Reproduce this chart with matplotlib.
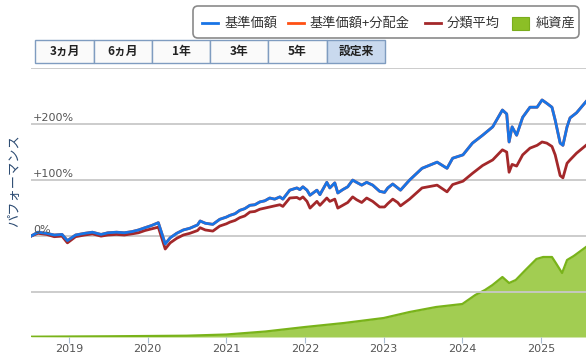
import matplotlib
matplotlib.use('Agg')
import matplotlib.pyplot as plt
import pandas as pd
from matplotlib.patches import FancyBboxPatch, Rectangle
from matplotlib.lines import Line2D
from matplotlib.transforms import IdentityTransform

# performance data (% since inception)
dates = [
    '2018-07-09', '2018-08-10', '2018-09-20', '2018-10-25', '2018-11-30', '2018-12-25',
    '2019-02-01', '2019-03-15', '2019-04-20', '2019-05-30', '2019-07-01', '2019-08-10',
    '2019-09-15', '2019-10-20', '2019-11-20', '2019-12-20', '2020-01-20', '2020-02-20',
    '2020-03-23', '2020-04-15', '2020-05-15', '2020-06-15', '2020-07-15', '2020-08-20',
    '2020-09-01', '2020-09-25', '2020-10-30', '2020-12-01',
    '2021-01-01', '2021-01-17', '2021-02-10', '2021-03-04', '2021-03-27', '2021-04-20',
    '2021-05-13', '2021-06-05', '2021-06-28', '2021-07-21', '2021-08-13', '2021-09-06',
    '2021-09-20', '2021-10-22', '2021-11-24', '2021-12-08', '2021-12-22',
    '2022-01-10', '2022-01-24', '2022-02-25', '2022-03-11', '2022-04-12', '2022-04-26',
    '2022-05-19', '2022-06-02', '2022-06-25', '2022-07-18', '2022-08-10', '2022-08-28',
    '2022-09-21', '2022-10-14', '2022-11-11', '2022-12-13',
    '2023-01-05', '2023-01-20', '2023-02-12', '2023-03-07', '2023-03-20',
    '2023-05-01', '2023-06-28', '2023-09-06', '2023-10-22', '2023-11-17',
    '2024-01-04', '2024-02-17', '2024-04-04', '2024-05-21', '2024-07-05', '2024-07-25',
    '2024-08-05', '2024-08-19', '2024-09-09', '2024-10-07', '2024-11-10', '2024-12-13',
    '2025-01-05', '2025-01-27', '2025-02-20', '2025-03-07', '2025-03-30', '2025-04-12',
    '2025-05-01', '2025-05-15', '2025-06-14', '2025-07-28',
]
nav = [
    0, 7, 5, 2, 3, -8,
    2, 5, 7, 3, 6, 7,
    6, 8, 11, 15, 19, 24,
    -14, -3, 5, 11, 14, 20,
    27, 23, 21, 30,
    34, 37, 40, 46, 49, 55,
    56, 61, 63, 68, 66, 70,
    66, 82, 86, 83, 88,
    82, 73, 82, 74, 96, 86,
    95, 77, 83, 88, 100, 96,
    91, 96, 91, 80,
    78, 86, 93, 86, 82,
    100, 121, 132, 121, 139,
    145, 166, 180, 195, 225, 218,
    168, 195, 180, 212, 230, 230,
    243, 237, 230, 207, 166, 162,
    195, 211, 220, 240,
]
nav_div = list(nav)  # no distributions paid, so it sits under the NAV line
category_avg = [
    0, 5, 3, -1, 0, -12,
    -1, 2, 4, 0, 2, 3,
    2, 4, 6, 10, 13, 16,
    -23, -12, -4, 2, 5, 10,
    15, 11, 9, 18,
    22, 25, 28, 33, 36, 43,
    44, 48, 50, 52, 54, 56,
    53, 68, 69, 66, 70,
    62, 50, 62, 55, 68, 62,
    66, 50, 55, 60, 70, 65,
    60, 68, 62, 52,
    52, 58, 66, 60, 54,
    66, 86, 91, 79, 92,
    98, 112, 126, 136, 154, 150,
    114, 128, 125, 145, 157, 162,
    168, 166, 160, 145, 108, 104,
    130, 136, 148, 162,
]

# net assets (secondary axis, 億円)
na_dates = [
    '2018-07-09', '2019-01-01', '2019-07-01', '2020-01-01', '2020-07-01', '2021-01-01',
    '2021-07-01', '2022-01-01', '2022-07-01', '2023-01-01', '2023-05-01', '2023-09-01',
    '2024-01-01', '2024-03-01', '2024-04-15', '2024-05-20', '2024-07-05', '2024-08-05',
    '2024-09-05', '2024-10-20', '2024-12-10', '2025-01-10', '2025-02-20', '2025-03-10',
    '2025-04-08', '2025-05-01', '2025-06-01', '2025-07-28',
]
net_assets = [
    6, 10, 14, 20, 26, 50,
    110, 200, 280, 380, 500, 600,
    660, 840, 940, 1040, 1200, 1080,
    1140, 1340, 1560, 1600, 1600, 1480,
    1280, 1540, 1620, 1800,
]

year_ticks = ['2019-01-01', '2020-01-01', '2021-01-01', '2022-01-01',
              '2023-01-01', '2024-01-01', '2025-01-01']
year_labels = ['2019', '2020', '2021', '2022', '2023', '2024', '2025']
pct_ticks = [-100, 0, 100, 200, 300]
pct_labels = ['', '0%', '+100%', '+200%', '']
buttons = ['3ヵ月', '6ヵ月', '1年', '3年', '5年', '設定来']
legend_labels = ['基準価額', '基準価額+分配金', '分類平均', '純資産']

c_nav = '#1874e6'
c_div = '#ff5014'
c_cat = '#a3282a'
c_na_fill = '#a2cd52'
c_na_edge = '#79b31a'
jp = ['Noto Sans CJK JP', 'DejaVu Sans']

W, H = 586, 354
fig = plt.figure(figsize=(W / 100, H / 100), dpi=100)


def fx(px):
    return px / W


def fy(py):
    return 1 - py / H


ax = fig.add_axes([fx(31), fy(337), fx(586) - fx(31), fy(68) - fy(337)])
ax2 = ax.twinx()
ax.set_zorder(ax2.get_zorder() + 1)
ax.patch.set_visible(False)

d_na = pd.to_datetime(na_dates)
ax2.fill_between(d_na, net_assets, color=c_na_fill, lw=0)
ax2.plot(d_na, net_assets, color=c_na_edge, lw=1.6)
ax2.set_ylim(0, 5380)
ax2.set_yticks([])

d = pd.to_datetime(dates)
ax.plot(d, nav_div, color=c_div, lw=2)
ax.plot(d, category_avg, color=c_cat, lw=2)
ax.plot(d, nav, color=c_nav, lw=2)

ax.set_xlim(pd.Timestamp('2018-07-09'), pd.Timestamp('2025-07-28'))
ax.set_ylim(-180, 300)
ax.set_yticks(pct_ticks)
ax.set_yticklabels([])
ax.tick_params(axis='y', length=0)
ax.grid(axis='y', color='#c8c8c8', lw=1.3)
ax.set_xticks(pd.to_datetime(year_ticks))
ax.set_xticklabels(year_labels, fontsize=8, color='#555555')
ax.tick_params(axis='x', length=4, color='#a8bcd0', pad=1)
for a in (ax, ax2):
    for s in a.spines.values():
        s.set_visible(False)

for v, lab in zip(pct_ticks, pct_labels):
    if lab:
        ax.text(0.004, v + 2, lab, transform=ax.get_yaxis_transform(),
                fontsize=8, color='#555555', ha='left', va='bottom')

fig.text(fx(15), fy(181), 'パフォーマンス', rotation=90, ha='center', va='center',
         fontsize=9.5, color='#2c4b72', family=jp)

# period buttons
edges = [35, 94, 152, 210, 268, 327, 385]
for i, lab in enumerate(buttons):
    x0, x1 = edges[i], edges[i + 1]
    fc = '#c9d9ee' if i == len(buttons) - 1 else '#fafafa'
    fig.add_artist(Rectangle((fx(x0), fy(63)), fx(x1) - fx(x0), fy(40) - fy(63),
                             transform=fig.transFigure, facecolor=fc,
                             edgecolor='#7f9cc0', lw=1))
    fig.text(fx((x0 + x1) / 2), fy(51.5), lab, ha='center', va='center',
             fontsize=8.5, fontweight='bold', color='#222222', family=jp)

# legend box
ident = IdentityTransform()
fig.add_artist(FancyBboxPatch((193, H - 38), 386, 32,
                              boxstyle='round,pad=0,rounding_size=5',
                              transform=ident, facecolor='white',
                              edgecolor='#8a8a8a', lw=1.2))
handles = [(202, c_nav), (288, c_div), (425, c_cat)]
for (hx, col), lab in zip(handles, legend_labels[:3]):
    fig.add_artist(Line2D([fx(hx), fx(hx + 16)], [fy(23), fy(23)],
                          transform=fig.transFigure, color=col, lw=2))
    fig.text(fx(hx + 22), fy(23.5), lab, ha='left', va='center',
             fontsize=9.5, color='#333333', family=jp)
fig.add_artist(Rectangle((fx(512), fy(30)), fx(529) - fx(512), fy(17) - fy(30),
                         transform=fig.transFigure, facecolor='#8cbf26',
                         edgecolor='#7aad1c', lw=0.8))
fig.text(fx(536), fy(23.5), legend_labels[3], ha='left', va='center',
         fontsize=9.5, color='#333333', family=jp)

fig.savefig('out.png', dpi=100)
